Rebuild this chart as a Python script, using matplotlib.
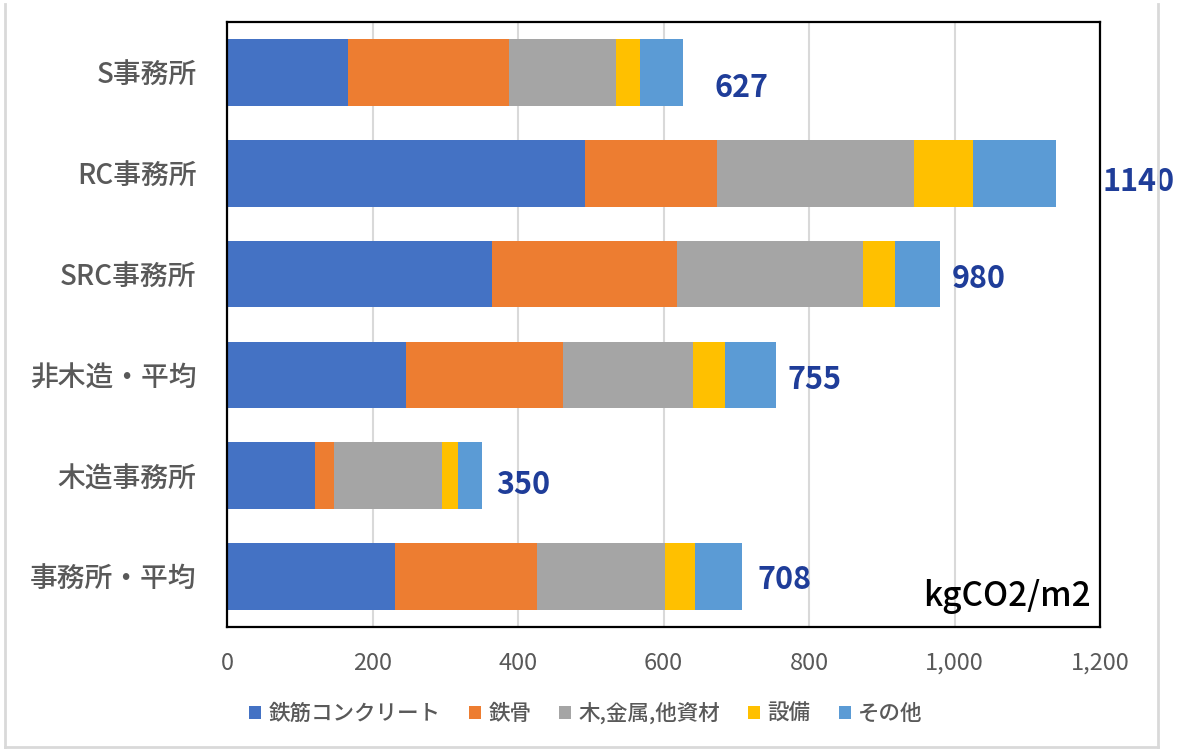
# -*- coding:utf-8 -*-
import matplotlib.pyplot as plt
from matplotlib.lines import Line2D
from matplotlib.patches import Patch
import numpy as np

plt.rcParams['font.family'] = ['Noto Sans CJK JP', 'DejaVu Sans']

# Embodied carbon per floor area by building type (kgCO2/m2).
categories = ['S事務所', 'RC事務所', 'SRC事務所', '非木造・平均', '木造事務所', '事務所・平均']
series_names = ['鉄筋コンクリート', '鉄骨', '木,金属,他資材', '設備', 'その他']
rebar_concrete = [167, 492, 364, 246, 121, 231]
steel_frame = [221, 182, 255, 216, 26, 195]
wood_metal_other = [147, 270, 255, 179, 149, 176]
equipment = [33, 81, 44, 44, 21, 41]
others = [59, 115, 62, 70, 33, 65]
totals = [627, 1140, 980, 755, 350, 708]

colors = ['#4472C4', '#ED7D31', '#A5A5A5', '#FFC000', '#5B9BD5']
# label placement next to each bar end, in pixels (right, down)
label_dx = [31, 46, 12, 11, 15, 15]
label_dy = [16, 9, 5, 5, 9, 3]


def draw_bars(ax, series):

    """ Stack the five components horizontally for every building type. """

    y = np.arange(len(categories))
    left = np.zeros(len(categories))
    for values, color in zip(series, colors):
        ax.barh(y, values, left=left, height=0.66, color=color, linewidth=0, zorder=2)
        left += np.array(values)
    return y


def draw_totals(ax, y):

    """ Write the total value to the right of each bar. """

    for yi, total, dx, dy in zip(y, totals, label_dx, label_dy):
        ax.annotate(str(total), xy=(total, yi), xytext=(dx, -dy),
                    textcoords='offset pixels', ha='left', va='center',
                    fontsize=22, fontweight='bold', color='#1f3d99',
                    annotation_clip=False)


fig = plt.figure(figsize=(11.78, 7.49), dpi=100)
ax = fig.add_axes([227 / 1178, 1 - 627 / 749, (1100 - 227) / 1178, (627 - 22) / 749])

series = [rebar_concrete, steel_frame, wood_metal_other, equipment, others]
y = draw_bars(ax, series)
draw_totals(ax, y)

ax.set_xlim(0, 1200)
ax.set_ylim(len(categories) - 0.5, -0.5)
ax.set_xticks(np.arange(0, 1201, 200))
ax.xaxis.set_major_formatter(plt.FuncFormatter(lambda v, p: f'{int(v):,}'))
ax.set_yticks(y)
ax.set_yticklabels(categories, fontweight='medium')
ax.tick_params(axis='y', length=0, pad=22, labelsize=20, labelcolor='#595959')
ax.tick_params(axis='x', length=0, pad=18, labelsize=17, labelcolor='#595959')
ax.grid(axis='x', color='#D9D9D9', linewidth=1.5, zorder=0)
ax.set_axisbelow(True)
for spine in ax.spines.values():
    spine.set_color('black')
    spine.set_linewidth(1.6)

ax.text(0.989, 0.035, 'kgCO2/m2', transform=ax.transAxes, ha='right',
        va='baseline', fontsize=24, fontweight='medium', color='black')

handles = [Patch(facecolor=c, edgecolor='none') for c in colors]
fig.legend(handles, series_names, loc='center', bbox_to_anchor=(586 / 1178, 1 - 714 / 749),
           ncol=5, frameon=False, prop={'size': 15.5, 'weight': 'medium'}, labelcolor='#595959',
           handlelength=0.55, handleheight=0.55, handletextpad=0.35, columnspacing=1.3)

# thin outer border of the chart area
border = dict(color='#D9D9D9', linewidth=2, transform=fig.transFigure)
fig.add_artist(Line2D([5 / 1178, 5 / 1178], [1 - 4 / 749, 1 - 747 / 749], **border))
fig.add_artist(Line2D([1158 / 1178, 1158 / 1178], [1 - 4 / 749, 1 - 747 / 749], **border))
fig.add_artist(Line2D([5 / 1178, 1158 / 1178], [1 - 747 / 749, 1 - 747 / 749], **border))

fig.savefig('out.png', dpi=100)
